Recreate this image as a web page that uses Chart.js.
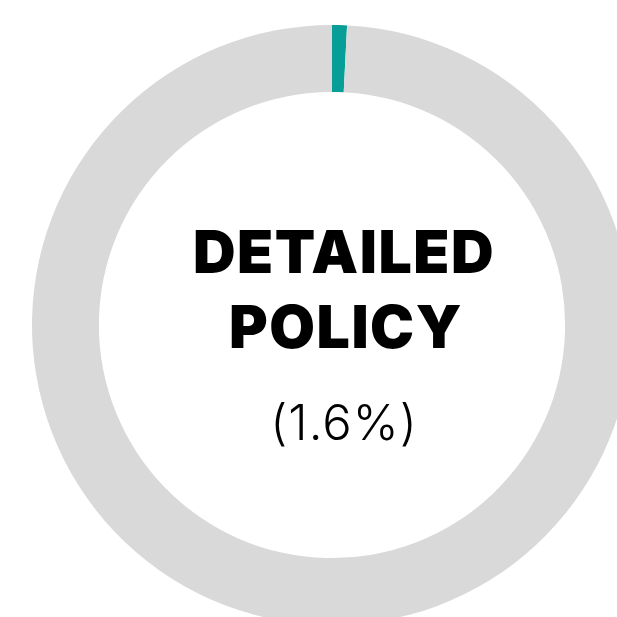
<!DOCTYPE html>
<html>
<head>
<meta charset="utf-8">
<script src="https://cdn.jsdelivr.net/npm/chart.js@4"></script>
<style>
  html, body { margin: 0; padding: 0; background: #fff; overflow: hidden; width: 617px; height: 617px; }
  #wrap { position: absolute; left: 32px; top: 25px; width: 600px; height: 600px; }
</style>
</head>
<body>
<div id="wrap"><canvas id="policychart" width="600" height="600"></canvas></div>
<script>
// data
const segments = ['Detailed policy', 'Other'];
const arcValues = [0.8, 99.2];
const segmentColors = ['#089e98', '#d9d9d9'];
const titleLines = ['DETAILED', 'POLICY'];
const shareLabel = '(1.6%)';

// centre text
const centreText = {
  id: 'centreText',
  afterDraw(chart) {
    const ctx = chart.ctx;
    ctx.save();
    ctx.fillStyle = '#000';
    ctx.textAlign = 'center';
    ctx.textBaseline = 'alphabetic';
    ctx.letterSpacing = '1.5px';
    ctx.font = '900 59px Inter, Lato, sans-serif';
    ctx.fillText(titleLines[0], 312, 248);
    ctx.fillText(titleLines[1], 314, 323);
    ctx.letterSpacing = '1px';
    ctx.font = '300 49px Inter, Lato, sans-serif';
    ctx.fillText(shareLabel, 312, 415);
    ctx.restore();
  }
};

const config = {
  type: 'doughnut',
  data: {
    labels: segments,
    datasets: [{
      data: arcValues,
      backgroundColor: segmentColors,
      borderWidth: 0
    }]
  },
  options: {
    responsive: false,
    animation: false,
    cutout: '77.7%',
    layout: { padding: 0 },
    plugins: {
      legend: { display: false },
      tooltip: { enabled: false }
    }
  },
  plugins: [centreText]
};

const policychart = new Chart(document.getElementById('policychart'), config);
</script>
</body>
</html>
